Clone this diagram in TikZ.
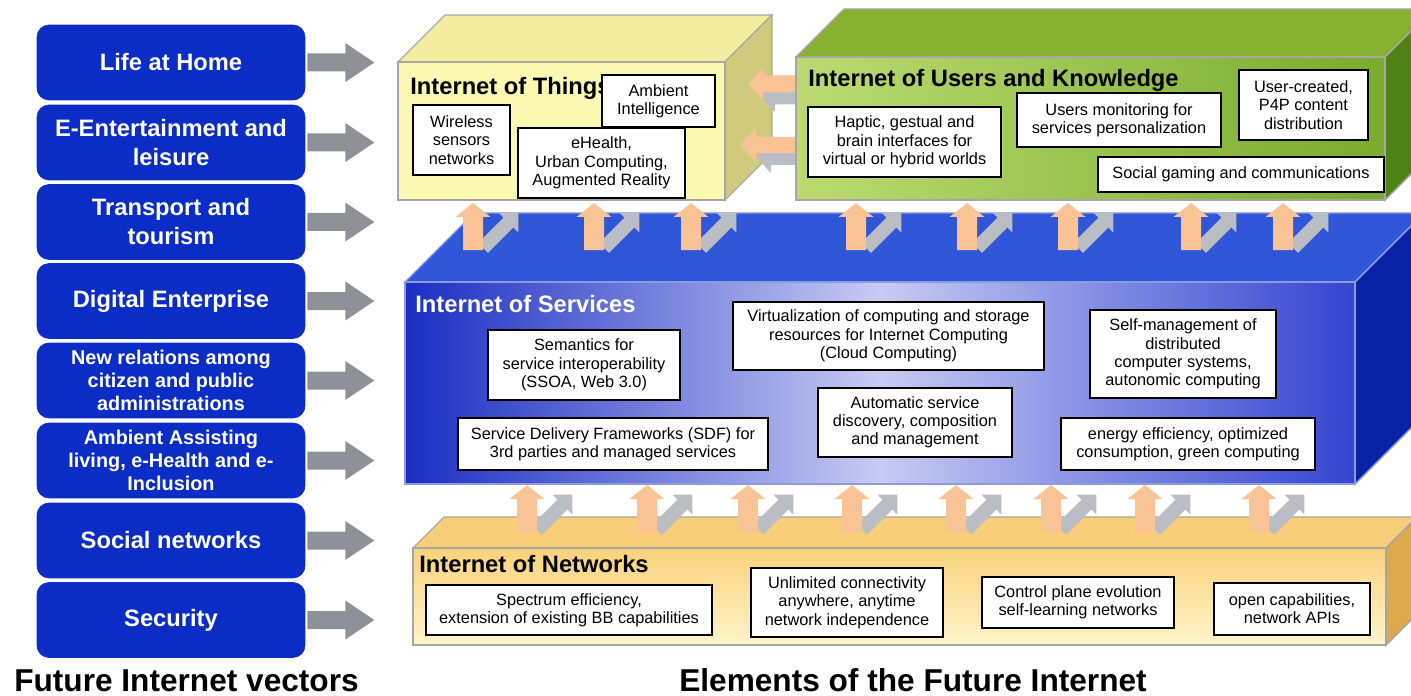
\documentclass[tikz,border=0pt]{standalone}
\usepackage{fontspec}
\setmainfont{Liberation Sans}
\definecolor{vecblue}{HTML}{0B2DC6}
\definecolor{vecgray}{HTML}{8E9298}
\definecolor{upcol}{HTML}{FAC396}
\definecolor{diagcol}{HTML}{BABDC3}
\definecolor{thingfront}{HTML}{FBF8B2}
\definecolor{thingtop}{HTML}{F3EE9F}
\definecolor{thingside}{HTML}{CFCA7C}
\definecolor{userlight}{HTML}{BBDB72}
\definecolor{userdark}{HTML}{79AB2D}
\definecolor{usertop}{HTML}{86B230}
\definecolor{userside}{HTML}{4F8214}
\definecolor{servtop}{HTML}{3056D8}
\definecolor{servleft}{HTML}{1A2EC2}
\definecolor{servmid}{HTML}{C8CBF3}
\definecolor{servright}{HTML}{3444D0}
\definecolor{servside}{HTML}{0A23A5}
\definecolor{servline}{HTML}{8C9BE0}
\definecolor{nettop}{HTML}{F8CE78}
\definecolor{netfront}{HTML}{F9D27C}
\definecolor{netpale}{HTML}{FFF4CA}
\definecolor{netside}{HTML}{DCA94B}

\newcommand{\blockarrow}[4]{(0,-#2) -- ({#1-#4},-#2) -- ({#1-#4},-#3) -- (#1,0) -- ({#1-#4},#3) -- ({#1-#4},#2) -- (0,#2) -- cycle}
\newcommand{\slab}[8]{%
  \path[#7] (#1,#2) -- ({#1+#5},{#2-#5}) -- ({#3+#5},{#2-#5}) -- (#3,#2) -- cycle;
  \path[#8] (#3,#2) -- ({#3+#5},{#2-#5}) -- ({#3+#5},{#4-#5}) -- (#3,#4) -- cycle;
  \path[#6] (#1,#2) rectangle (#3,#4);
}

\tikzset{
  vector/.style={fill=vecblue, draw=vecblue, rounded corners=0.24cm, text=white, align=center,
    minimum width=5.36cm, minimum height=1.5cm, inner sep=1pt,
    font=\fontsize{13.5}{16.5}\selectfont\bfseries},
  small vector/.style={vector, font=\fontsize{11.3}{13.3}\selectfont\bfseries},
  item/.style={draw=black, line width=1pt, fill=white, align=center, inner sep=1pt,
    font=\fontsize{9.3}{10.4}\selectfont},
  boxsize/.style 2 args={minimum width=#1*0.02cm, minimum height=#2*0.02cm},
  layer/.style={anchor=base west, inner sep=0pt, font=\fontsize{13.5}{16}\selectfont\bfseries},
  caption/.style={anchor=base, inner sep=0pt, font=\fontsize{18}{20}\selectfont\bfseries},
  edge/.style={draw=black!35, line width=0.8pt},
  servedge/.style={draw=servline, line width=0.8pt}
}

\begin{document}
\begin{tikzpicture}[x=0.02cm, y=-0.02cm]
\useasboundingbox (0,0) rectangle (1411,696);
\clip (0,0) rectangle (1411,696);

% vectors
\node[vector] (v1) at (171,62.5) {Life at Home};
\node[vector] (v2) at (171,142.5) {E-Entertainment and\\leisure};
\node[vector] (v3) at (171,222) {Transport and\\tourism};
\node[vector] (v4) at (171,301) {Digital Enterprise};
\node[small vector] (v5) at (171,380.5) {New relations among\\citizen and public\\administrations};
\node[small vector] (v6) at (171,460.5) {Ambient Assisting\\living, e-Health and e-\\Inclusion};
\node[vector] (v7) at (171,540.5) {Social networks};
\node[vector] (v8) at (171,620) {Security};
\foreach \n in {1,...,8}
  \fill[vecgray, shift={([xshift=0.04cm]v\n.east)}] \blockarrow{67}{9}{19.5}{29};

% Internet of Networks
\slab{413}{548}{1386}{645}{31}{edge, top color=netfront, bottom color=netpale}{edge, fill=nettop}{edge, fill=netside}
\node[layer] (ion) at (419,572) {Internet of Networks};
\node[item, boxsize={286}{50}] (spectrum) at (569,610) {Spectrum efficiency,\\extension of existing BB capabilities};
\node[item, boxsize={192}{69}] (unlimited) at (847,602.5) {Unlimited connectivity\\anywhere, anytime\\network independence};
\node[item, boxsize={192}{51}] (control) at (1078,602.5) {Control plane evolution\\self-learning networks};
\node[item, boxsize={156}{52}] (opencap) at (1292,609) {open capabilities,\\network APIs};

% Internet of Services
\slab{405}{282}{1355}{484}{69}{servedge, left color=servleft, right color=servright, middle color=servmid}{servedge, fill=servtop}{servedge, fill=servside}
\node[layer, text=white] (ios) at (415,312) {Internet of Services};
\node[item, boxsize={192}{70}] (semantics) at (584,365) {Semantics for\\service interoperability\\(SSOA, Web 3.0)};
\node[item, boxsize={310}{52}] (sdf) at (613,444) {Service Delivery Frameworks (SDF) for\\3rd parties and managed services};
\node[item, boxsize={311}{68}] (cloud) at (888.5,336) {Virtualization of computing and storage\\resources for Internet Computing\\(Cloud Computing)};
\node[item, boxsize={194}{69}] (automatic) at (915,422.5) {Automatic service\\discovery, composition\\and management};
\node[item, boxsize={186}{88}] (selfmgmt) at (1183,354) {Self-management of\\distributed\\computer systems,\\autonomic computing};
\node[item, boxsize={254}{52}] (energy) at (1188,444) {energy efficiency, optimized\\consumption, green computing};

\foreach \x in {527,647,748,852,956,1051,1145,1259}{
  \fill[diagcol, shift={({\x+10},530)}, rotate=45] \blockarrow{50}{7}{14}{14};
  \fill[upcol, shift={(\x,532)}, rotate=90] \blockarrow{47}{10}{17.5}{14};
}

% Internet of Things
\slab{398}{62}{725}{200}{47}{edge, fill=thingfront}{edge, fill=thingtop}{edge, fill=thingside}
\node[layer] (iot) at (410,95) {Internet of Things};
\node[item, boxsize={97}{70}] (wsn) at (461.5,140) {Wireless\\sensors\\networks};
\node[item, boxsize={113}{52}] (ambient) at (658.5,101) {Ambient\\Intelligence};
\node[item, boxsize={167}{70}] (ehealth) at (601.5,163) {eHealth,\\Urban Computing,\\Augmented Reality};

\fill[diagcol, shift={(806,96)}, rotate=180] \blockarrow{46}{8.5}{16}{15};
\fill[upcol, shift={(796,84)}, rotate=180] \blockarrow{48}{8.5}{16}{15};
\fill[diagcol, shift={(806,157)}, rotate=180] \blockarrow{50}{8}{16}{15};
\fill[upcol, shift={(796,145)}, rotate=180] \blockarrow{56}{8}{17}{16};

% Internet of Users and Knowledge
\slab{796}{57}{1385}{200}{48}{edge, left color=userlight, right color=userdark}{edge, fill=usertop}{edge, fill=userside}
\node[layer] (iouk) at (808,87) {Internet of Users and Knowledge};
\node[item, boxsize={193}{70}] (haptic) at (904.5,142) {Haptic, gestual and\\brain interfaces for\\virtual or hybrid worlds};
\node[item, boxsize={204}{54}] (usersmon) at (1119,120) {Users monitoring for\\services personalization};
\node[item, boxsize={129}{70}] (usercreated) at (1303.5,105) {User-created,\\P4P content\\distribution};
\node[item, boxsize={286}{35}] (gaming) at (1241,174.5) {Social gaming and communications};

\foreach \x in {473,594,691,856,967,1068,1191,1283}{
  \fill[diagcol, shift={({\x+10},248)}, rotate=45] \blockarrow{50}{7}{14}{14};
  \fill[upcol, shift={(\x,250)}, rotate=90] \blockarrow{47}{10}{17.5}{14};
}

\node[caption] (vectors) at (186.5,691) {Future Internet vectors};
\node[caption] (elements) at (913,691) {Elements of the Future Internet};
\end{tikzpicture}
\end{document}
